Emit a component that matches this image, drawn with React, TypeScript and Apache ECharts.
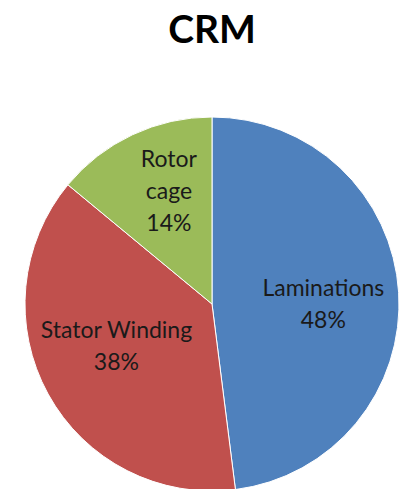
import React, { useEffect, useRef } from "react";
import * as echarts from "echarts";

const categories = ["Laminations", "Stator Winding", "Rotor cage"];
const values = [48, 38, 14];
const labelTexts = ["Laminations\n48%", "Stator Winding\n38%", "Rotor\ncage\n14%"];
const colors = ["#4F81BD", "#C0504D", "#9BBB59"];
const labelShift = [
  [15, 5],
  [-11, -5],
  [-2, -27],
];

export default function App() {
  const ref = useRef<HTMLDivElement>(null);
  useEffect(() => {
    if (!ref.current) return;
    const chart = echarts.init(ref.current, null, { renderer: "svg" });
    chart.setOption({
      animation: false,
      backgroundColor: "#ffffff",
      title: {
        text: "CRM",
        left: 207,
        textAlign: "center",
        top: 3,
        textStyle: { fontFamily: "Lato", fontWeight: "bold", fontSize: 39, color: "#000" },
      },
      series: [
        {
          type: "pie",
          center: [212, 304],
          radius: 187,
          startAngle: 90,
          clockwise: true,
          avoidLabelOverlap: false,
          itemStyle: { borderColor: "#ffffff", borderWidth: 1 },
          label: {
            show: true,
            position: "inside",
            fontFamily: "Lato",
            fontSize: 23,
            lineHeight: 32,
            color: "#1a1a1a",
            align: "center",
          },
          labelLine: { show: false },
          labelLayout: (p: any) => ({ dx: labelShift[p.dataIndex][0], dy: labelShift[p.dataIndex][1] }),
          data: categories.map((c, i) => ({
            name: c,
            value: values[i],
            itemStyle: { color: colors[i] },
            label: { formatter: labelTexts[i] },
          })),
        },
      ],
    });
    return () => chart.dispose();
  }, []);
  return <div ref={ref} style={{ position: "fixed", left: 0, top: 0, width: 400, height: 489 }} />;
}
